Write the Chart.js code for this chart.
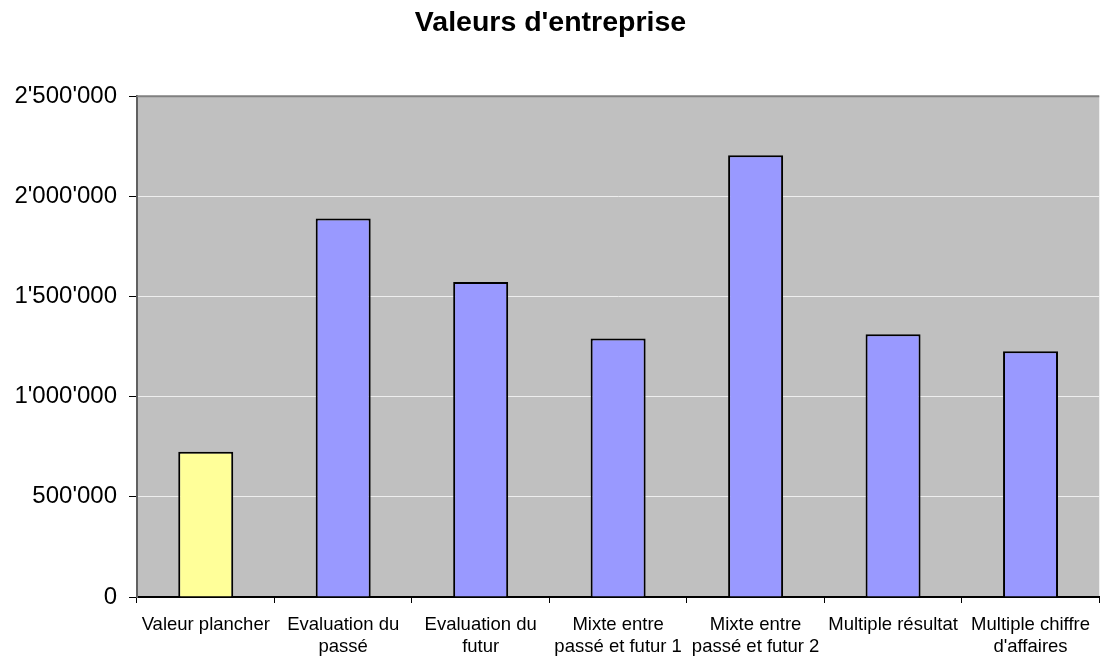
<!DOCTYPE html>
<html>
<head>
<meta charset="utf-8">
<script src="https://cdn.jsdelivr.net/npm/chart.js@4"></script>
<style>
  html, body { margin: 0; padding: 0; background: #fff; }
  #wrap { width: 1101px; height: 656px; }
</style>
</head>
<body>
<div id="wrap"><canvas id="valChart"></canvas></div>
<script>
const categories = [
    ['Valeur plancher'],
    ['Evaluation du', 'passé'],
    ['Evaluation du', 'futur'],
    ['Mixte entre', 'passé et futur 1'],
    ['Mixte entre', 'passé et futur 2'],
    ['Multiple résultat'],
    ['Multiple chiffre', "d'affaires"]
];
const values = [725000, 1890000, 1572000, 1290000, 2205000, 1312000, 1227000];
const barColors = ['#FFFF99', '#9999FF', '#9999FF', '#9999FF', '#9999FF', '#9999FF', '#9999FF'];
const yMax = 2500000;
const yStep = 500000;

const FONT = "'Liberation Sans', Arial, sans-serif";

// swiss style thousands: 2'500'000
function fmtCH(v) {
    return String(v).replace(/\B(?=(\d{3})+(?!\d))/g, "'");
}

// grey plot area plus its top frame line
const plotBg = {
    id: 'plotBg',
    beforeDraw(chart) {
        const { ctx, chartArea: a } = chart;
        ctx.save();
        ctx.fillStyle = '#C0C0C0';
        ctx.fillRect(a.left, a.top, a.right - a.left, a.bottom - a.top);
        ctx.restore();
    },
    afterDatasetsDraw(chart) {
        const { ctx, chartArea: a } = chart;
        ctx.save();
        ctx.strokeStyle = '#808080';
        ctx.lineWidth = 2;
        ctx.beginPath();
        ctx.moveTo(a.left, a.top);
        ctx.lineTo(a.right, a.top);
        ctx.stroke();
        ctx.restore();
    }
};

new Chart(document.getElementById('valChart'), {
    type: 'bar',
    data: {
        labels: categories,
        datasets: [{
            data: values,
            backgroundColor: barColors,
            borderColor: '#000',
            borderWidth: 2,
            barPercentage: 0.4,
            categoryPercentage: 1
        }]
    },
    options: {
        responsive: true,
        maintainAspectRatio: false,
        animation: false,
        layout: { padding: 0 },
        plugins: {
            legend: { display: false },
            tooltip: { enabled: false },
            title: {
                display: true,
                text: "Valeurs d'entreprise",
                color: '#000',
                font: { family: FONT, size: 28.5, weight: 'bold' },
                padding: { top: 6, bottom: 56 }
            }
        },
        scales: {
            x: {
                afterFit(scale) { scale.height = 59; },
                grid: {
                    offset: true,
                    drawOnChartArea: false,
                    tickLength: 6,
                    tickColor: '#000'
                },
                border: { color: '#000', width: 2 },
                ticks: {
                    color: '#000',
                    maxRotation: 0,
                    autoSkip: false,
                    padding: 11,
                    font: { family: FONT, size: 18.5, lineHeight: 1.2 }
                }
            },
            y: {
                min: 0,
                max: yMax,
                afterFit(scale) { scale.width = 137; },
                grid: {
                    color: ctx => ctx.tick && (ctx.tick.value === 0 || ctx.tick.value === yMax) ? 'rgba(0,0,0,0)' : '#EEEEEE',
                    lineWidth: 1,
                    tickLength: 8,
                    tickColor: '#000'
                },
                border: { color: '#606060', width: 2 },
                ticks: {
                    stepSize: yStep,
                    color: '#000',
                    padding: 12,
                    font: { family: FONT, size: 24 },
                    callback: v => fmtCH(v)
                }
            }
        }
    },
    plugins: [plotBg]
});
</script>
</body>
</html>
